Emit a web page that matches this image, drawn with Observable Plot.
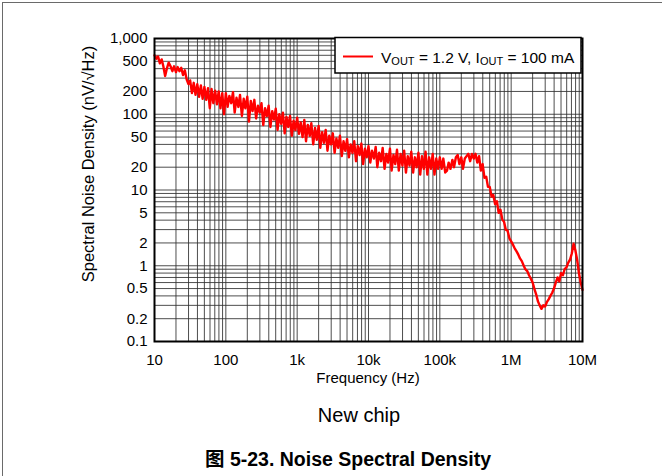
<!DOCTYPE html>
<html>
<head>
<meta charset="utf-8">
<script src="https://cdn.jsdelivr.net/npm/d3@7"></script>
<script src="https://cdn.jsdelivr.net/npm/@observablehq/plot@0.6"></script>
<style>
  html, body { margin: 0; padding: 0; background: #fff; }
  #wrap { position: relative; width: 662px; height: 476px; overflow: hidden; }
  #page { position: absolute; left: 2px; top: 2px; right: -10px; bottom: -10px;
          border-top: 1.5px solid #6a6a6a; border-left: 1.5px solid #6a6a6a; }
  #chart { position: absolute; left: 0; top: 0; }
  #overlay { position: absolute; left: 0; top: 0; pointer-events: none; }
  text { font-family: "Liberation Sans", Arial, "Noto Sans CJK SC", sans-serif; }
</style>
</head>
<body>
<div id="wrap">
  <div id="page"></div>
  <div id="chart"></div>
  <svg id="overlay" width="662" height="476" xmlns="http://www.w3.org/2000/svg">
    <rect x="335" y="37.5" width="246" height="35.5" fill="#fff" stroke="#000" stroke-width="1.5"/>
    <line x1="343" x2="373" y1="56.5" y2="56.5" stroke="#ff0000" stroke-width="2"/>
    <text x="381" y="62.5" font-size="15.5" fill="#000">V<tspan font-size="11" dy="2.5">OUT</tspan><tspan dy="-2.5"> = 1.2 V, I</tspan><tspan font-size="11" dy="2.5">OUT</tspan><tspan dy="-2.5"> = 100 mA</tspan></text>
    <text transform="translate(94,164) rotate(-90)" text-anchor="middle" font-size="16.5" fill="#000">Spectral Noise Density (nV/√Hz)</text>
    <text x="368" y="383" text-anchor="middle" font-size="15" fill="#000">Frequency (Hz)</text>
    <text x="359" y="422" text-anchor="middle" font-size="20" fill="#000">New chip</text>
    <text x="205" y="466" font-size="19.5" font-weight="bold" fill="#000">图 5-23. Noise Spectral Density</text>
  </svg>
</div>
<script>
// Frequency (Hz) / noise density (nV/√Hz) pairs
const decade1 = [[10,600],[10.6,540],[11.2,580],[11.9,470],[12.6,530],[13.3,430],[14.1,320],[15,410],[15.8,480],[16.8,430],
  [17.8,370],[18.8,430],[20,360],[21.1,420],[22.4,370],[23.7,410],[25.1,330],[26.6,380],[28.2,290],[29.9,250],
  [31.6,280],[33.5,190],[35.5,260],[37.6,180],[39.8,250],[42.2,170],[44.7,240],[47.3,160],[50.1,230],[53.1,155],
  [56.2,220],[59.6,120],[63.1,215],[66.8,140],[70.8,205],[75,135],[79.4,200],[84.1,120],[89.1,190],[94.4,100]];
const decade2 = [[100,190],[106,125],[112,175],[119,140],[126,195],[133,105],[141,165],[150,125],[158,180],[168,95],
  [178,160],[188,120],[200,170],[211,80],[224,150],[237,110],[251,155],[266,88],[282,130],[299,105],
  [316,140],[335,72],[355,120],[376,95],[398,130],[422,68],[447,110],[473,85],[501,118],[531,62],
  [562,100],[596,75],[631,105],[668,56],[708,92],[750,68],[794,95],[841,52],[891,82],[944,62]];
const decade3 = [[1000,90],[1060,55],[1120,78],[1190,50],[1260,84],[1330,44],[1410,72],[1500,52],[1580,76],[1680,40],
  [1780,66],[1880,46],[2000,70],[2110,36],[2240,58],[2370,42],[2510,62],[2660,33],[2820,52],[2990,40],
  [3160,56],[3350,31],[3550,48],[3760,36],[3980,52],[4220,28],[4470,44],[4730,33],[5010,47],[5310,27],
  [5620,40],[5960,31],[6310,44],[6680,24],[7080,38],[7500,29],[7940,41],[8410,22],[8910,35],[9440,27]];
const decade4 = [[10000,38],[10600,23],[11200,33],[11900,26],[12600,37],[13300,20],[14100,31],[15000,24],[15800,36],[16800,19],
  [17800,30],[18800,23],[20000,35],[21100,18],[22400,29],[23700,22],[25100,34],[26600,18],[28200,30],[29900,21],
  [31600,33],[33500,17],[35500,28],[37600,21],[39800,32],[42200,17],[44700,27],[47300,20],[50100,31],[53100,16],
  [56200,28],[59600,19],[63100,32],[66800,16],[70800,27],[75000,19],[79400,30],[84100,16],[89100,26],[94400,19]];
const decade5 = [[100000,27],[106000,19],[112000,26],[119000,17],[126000,18],[133000,23],[141000,19],[150000,25],[158000,20],[168000,27],
  [178000,29],[188000,22],[200000,27],[211000,19],[224000,26],[237000,28],[251000,30],[266000,24],[282000,30],[299000,26],
  [316000,30],[335000,23],[355000,28],[376000,18],[398000,22],[422000,14.5],[447000,15],[473000,11],[501000,11],[531000,8.2],
  [562000,8.6],[596000,6.5],[631000,7.1],[668000,5.0],[708000,5.5],[750000,4.1],[794000,3.8],[841000,3.0],[891000,2.9],[944000,2.3]];
const decade6 = [[1000000,2.1],[1060000,1.9],[1120000,1.7],[1190000,1.55],[1260000,1.4],[1330000,1.25],[1410000,1.15],[1500000,1.0],[1580000,0.9],[1680000,0.85],
  [1780000,0.75],[1880000,0.68],[2000000,0.6],[2110000,0.5],[2240000,0.42],[2370000,0.34],[2510000,0.3],[2660000,0.27],[2820000,0.3],[2990000,0.29],
  [3160000,0.33],[3350000,0.36],[3550000,0.4],[3760000,0.44],[3980000,0.5],[4220000,0.6],[4470000,0.7],[4730000,0.62],[5010000,0.8],[5310000,0.75],
  [5620000,0.9],[5960000,0.95],[6310000,1.1],[6680000,1.2],[7080000,1.45],[7500000,1.95],[7940000,1.6],[8410000,1.2],[8910000,0.8],[9440000,0.6],[10000000,0.48]];

const xTicks = [10, 100, 1e3, 1e4, 1e5, 1e6, 1e7];
const xTickLabels = ["10", "100", "1k", "10k", "100k", "1M", "10M"];
const yTicks = [0.1, 0.2, 0.5, 1, 2, 5, 10, 20, 50, 100, 200, 500, 1000];
const yTickLabels = ["0.1", "0.2", "0.5", "1", "2", "5", "10", "20", "50", "100", "200", "500", "1,000"];

const data = [...decade1, ...decade2, ...decade3, ...decade4, ...decade5, ...decade6].map(([f, v]) => ({f, v}));
const yLabelData = yTicks.map((t, i) => ({t, label: yTickLabels[i]}));

const chart = Plot.plot({
  width: 662,
  height: 476,
  marginLeft: 154,
  marginRight: 80,
  marginTop: 38,
  marginBottom: 135,
  style: {fontFamily: '"Liberation Sans", Arial, sans-serif', fontSize: "15px", color: "#000", background: "transparent"},
  x: {type: "log", domain: [10, 1e7], axis: null},
  y: {type: "log", domain: [0.1, 1000], axis: null},
  marks: [
    Plot.gridX({ticks: 30, stroke: "#2f2f2f", strokeOpacity: 0.85, strokeWidth: 1}),
    Plot.gridY({ticks: 30, stroke: "#2f2f2f", strokeOpacity: 0.85, strokeWidth: 1}),
    Plot.line(data, {x: "f", y: "v", stroke: "#ff0000", strokeWidth: 2.4}),
    Plot.frame({stroke: "#000", strokeWidth: 2}),
    Plot.axisX({ticks: xTicks, tickFormat: d => xTickLabels[xTicks.indexOf(d)], tickSize: 0, tickPadding: 13, label: null, fontSize: 15}),
    Plot.text(yLabelData, {y: "t", text: "label", frameAnchor: "left", dx: -7, textAnchor: "end", fontSize: 15, fill: "#000"})
  ]
});
document.getElementById("chart").appendChild(chart);
</script>
</body>
</html>
